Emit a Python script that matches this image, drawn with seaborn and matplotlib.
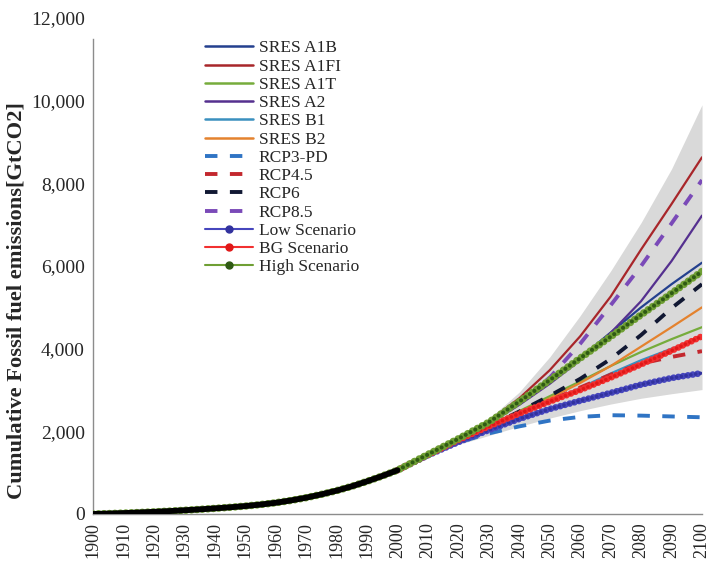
import matplotlib
matplotlib.use("Agg")
import matplotlib.pyplot as plt
from matplotlib.lines import Line2D
from matplotlib.ticker import FuncFormatter
import seaborn as sns

# ---- data (GtCO2, cumulative from 1900) ----
hist_years = [1900, 1905, 1910, 1915, 1920, 1925, 1930, 1935, 1940, 1945, 1950,
              1955, 1960, 1965, 1970, 1975, 1980, 1985, 1990, 1995, 2000]
hist_vals = [0, 10, 22, 36, 52, 70, 90, 112, 136, 162, 192,
             228, 272, 328, 395, 475, 565, 670, 790, 920, 1060]

proj_years = [2000, 2010, 2020, 2030, 2040, 2050, 2060, 2070, 2080, 2090, 2100]
sres_a1b = [1060, 1400, 1790, 2200, 2680, 3200, 3780, 4390, 5000, 5560, 6080]
sres_a1fi = [1060, 1400, 1800, 2250, 2800, 3480, 4300, 5260, 6400, 7500, 8630]
sres_a1t = [1060, 1400, 1790, 2140, 2490, 2850, 3210, 3580, 3920, 4230, 4520]
sres_a2 = [1060, 1400, 1790, 2180, 2640, 3150, 3720, 4380, 5150, 6120, 7220]
sres_b1 = [1060, 1400, 1780, 2110, 2420, 2730, 3050, 3400, 3720, 4000, 4270]
sres_b2 = [1060, 1400, 1780, 2120, 2460, 2800, 3170, 3580, 4050, 4520, 5000]
rcp3pd = [1060, 1420, 1730, 1950, 2120, 2260, 2350, 2390, 2380, 2360, 2340]
rcp45 = [1060, 1410, 1760, 2100, 2420, 2740, 3060, 3370, 3640, 3800, 3940]
rcp6 = [1060, 1400, 1760, 2120, 2480, 2860, 3270, 3750, 4330, 4980, 5560]
rcp85 = [1060, 1400, 1780, 2200, 2700, 3300, 4120, 5050, 6000, 7030, 8080]
low_scen = [1060, 1420, 1740, 2030, 2300, 2540, 2740, 2930, 3130, 3290, 3410]
bg_scen = [1060, 1430, 1790, 2120, 2430, 2720, 3000, 3300, 3620, 3950, 4300]
high_scen = [1060, 1440, 1820, 2220, 2720, 3240, 3770, 4290, 4820, 5340, 5870]

band_years = [2010, 2020, 2030, 2040, 2050, 2060, 2070, 2080, 2090, 2100]
band_upper = [1400, 1800, 2300, 2950, 3800, 4800, 5880, 7050, 8350, 9900]
band_lower = [1400, 1680, 1900, 2120, 2320, 2500, 2660, 2800, 2910, 3010]

x_ticks = list(range(1900, 2101, 10))
y_ticks = [0, 2000, 4000, 6000, 8000, 10000, 12000]

# ---- style ----
sns.set_theme(style="white")
plt.rcParams["font.family"] = ["Liberation Serif", "DejaVu Serif"]

fig = plt.figure(figsize=(7.1, 5.64), dpi=100)
ax = fig.add_axes([93 / 710, 50 / 564, 609 / 710, 496 / 564])

ax.fill_between(band_years, band_lower, band_upper, color="#d9d9d9", lw=0, zorder=1)

solid_specs = [
    ("SRES A1B", sres_a1b, "#24408e"),
    ("SRES A1FI", sres_a1fi, "#a8262a"),
    ("SRES A1T", sres_a1t, "#76ac3c"),
    ("SRES A2", sres_a2, "#55308f"),
    ("SRES B1", sres_b1, "#3a90bf"),
    ("SRES B2", sres_b2, "#e4822e"),
]
dash_specs = [
    ("RCP3-PD", rcp3pd, "#2f74c4"),
    ("RCP4.5", rcp45, "#c3282e"),
    ("RCP6", rcp6, "#111833"),
    ("RCP8.5", rcp85, "#7a4ab8"),
]
bead_specs = [
    ("Low Scenario", low_scen, "#4646bd", "#32329e"),
    ("BG Scenario", bg_scen, "#f23030", "#e01818"),
    ("High Scenario", high_scen, "#6f9f34", "#2f5a14"),
]

for label, vals, col in solid_specs:
    sns.lineplot(x=proj_years, y=vals, ax=ax, color=col, linewidth=1.6, zorder=3)

for label, vals, col in dash_specs:
    sns.lineplot(x=proj_years, y=vals, ax=ax, color=col, linewidth=2.8, zorder=3)
    ax.lines[-1].set_dashes((3.2, 3.2))


def beaded(xs, ys, col, edge, width):
    # thin guide line plus a row of round beads drawn as a dotted stroke
    sns.lineplot(x=xs, y=ys, ax=ax, color=col, linewidth=1.2, zorder=4)
    sns.lineplot(x=xs, y=ys, ax=ax, color=col, linewidth=width, zorder=4)
    ln = ax.lines[-1]
    ln.set_dashes((0.01, 0.72))
    ln.set_dash_capstyle("round")
    sns.lineplot(x=xs, y=ys, ax=ax, color=edge, linewidth=width * 0.55, zorder=4)
    ln = ax.lines[-1]
    ln.set_dashes((0.01, 0.72 / 0.55))
    ln.set_dash_capstyle("round")


for label, vals, col, edge in bead_specs[:2]:
    beaded(proj_years, vals, col, edge, 4.8)

high_years = hist_years + proj_years[1:]
high_all = hist_vals + high_scen[1:]
beaded(high_years, high_all, bead_specs[2][2], bead_specs[2][3], 5.4)

# observed record drawn in black over the shared start
sns.lineplot(x=hist_years, y=hist_vals, ax=ax, color="black", linewidth=4.2, zorder=5)
ax.lines[-1].set_solid_capstyle("round")

# ---- axes ----
ax.set_xlim(1900, 2100)
ax.set_ylim(0, 12000)
ax.set_xticks(x_ticks)
ax.set_xticklabels([str(t) for t in x_ticks], rotation=90, fontsize=13)
ax.set_yticks(y_ticks)
ax.yaxis.set_major_formatter(FuncFormatter(lambda v, p: f"{int(v):,}"))
ax.tick_params(axis="y", labelsize=14, direction="in", length=5, color="#8c8c8c", pad=6)
ax.tick_params(axis="x", direction="in", length=5, color="#8c8c8c", pad=6)
ax.set_xlabel("")
ax.set_ylabel("Cumulative Fossil fuel emissions[GtCO2]", fontsize=16.2,
              fontweight="bold")
ax.yaxis.set_label_coords(-0.11, 0.43)
for side in ("top", "right"):
    ax.spines[side].set_visible(False)
for side in ("left", "bottom"):
    ax.spines[side].set_color("#8c8c8c")
    ax.spines[side].set_linewidth(1.0)
ax.spines["left"].set_bounds(0, 11500)
ax.grid(False)

# ---- legend ----
handles = []
for label, vals, col in solid_specs:
    handles.append(Line2D([], [], color=col, lw=1.8, label=label))
for label, vals, col in dash_specs:
    handles.append(Line2D([], [], color=col, lw=2.8, dashes=(3.2, 3.2), label=label))
for label, vals, col, edge in bead_specs:
    handles.append(Line2D([], [], color=col, lw=1.5, marker="o", markersize=5,
                          markerfacecolor=edge, markeredgecolor=edge, label=label))
ax.legend(handles=handles, loc="upper left", bbox_to_anchor=(0.155, 0.99),
          frameon=False, fontsize=12.5, labelspacing=0.12, handlelength=2.8,
          handletextpad=0.3, borderaxespad=0.6)

fig.savefig("out.png", dpi=100)
